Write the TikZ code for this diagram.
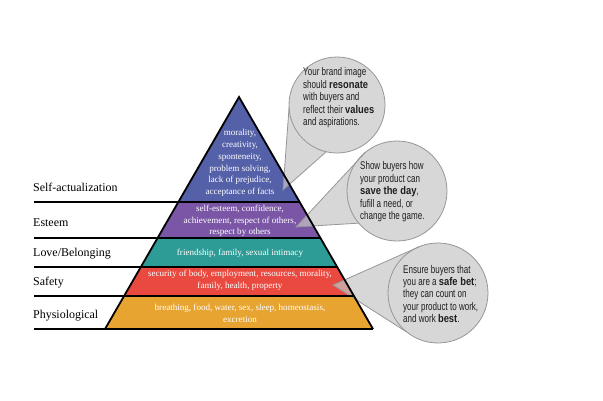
\documentclass[tikz,border=0pt]{standalone}
\usepackage{fontspec}
\setmainfont{Liberation Serif}
\newfontfamily\cfont[FakeStretch=0.72]{Liberation Sans}
\newfontfamily\cbfont[FakeStretch=0.84]{Liberation Sans}
\newcommand{\cb}[1]{{\cbfont\bfseries #1}}
\usetikzlibrary{calc}
\definecolor{pblue}{HTML}{5460A8}
\definecolor{ppurple}{HTML}{7B56A6}
\definecolor{pteal}{HTML}{2E9C96}
\definecolor{pred}{HTML}{E9493F}
\definecolor{porange}{HTML}{E7A431}
\definecolor{callfill}{RGB}{198,198,198}
\definecolor{callline}{RGB}{150,150,150}
\definecolor{ctext}{RGB}{30,30,30}
\tikzset{
  blackline/.style={line width=1.8bp, black},
  outline/.style={line width=1.8bp, black, line join=miter},
  calloutfill/.style={fill=callfill, fill opacity=0.7},
  calloutedge/.style={draw=callline, line width=0.8bp},
  lvl/.style={anchor=west, inner sep=0pt, font=\fontsize{12}{14}\selectfont},
  ptext/.style={align=center, text=white, inner sep=0pt, font=\fontsize{9.1}{11.8}\selectfont},
  ctextbox/.style={align=left, anchor=west, inner sep=0pt, text=ctext, font=\cfont\fontsize{11.2}{12.5}\selectfont},
}
\begin{document}
\begin{tikzpicture}[x=1bp,y=-1bp]
\useasboundingbox (0,0) rectangle (603,400);
% pyramid geometry
\coordinate (A) at (239,97);
\coordinate (BL) at (105,329);
\coordinate (BR) at (373,329);
\coordinate (L1) at ($(A)!0.4526!(BL)$);
\coordinate (R1) at ($(A)!0.4526!(BR)$);
\coordinate (L2) at ($(A)!0.6078!(BL)$);
\coordinate (R2) at ($(A)!0.6078!(BR)$);
\coordinate (L3) at ($(A)!0.7328!(BL)$);
\coordinate (R3) at ($(A)!0.7328!(BR)$);
\coordinate (L4) at ($(A)!0.8578!(BL)$);
\coordinate (R4) at ($(A)!0.8578!(BR)$);
% left ends of level lines
\coordinate (E1) at (34,202);
\coordinate (E2) at (34,238);
\coordinate (E3) at (34,267);
\coordinate (E4) at (34,296);
\coordinate (E5) at (34,329);
% bands
\fill[pblue] (A) -- (L1) -- (R1) -- cycle;
\fill[ppurple] (L1) -- (L2) -- (R2) -- (R1) -- cycle;
\fill[pteal] (L2) -- (L3) -- (R3) -- (R2) -- cycle;
\fill[pred] (L3) -- (L4) -- (R4) -- (R3) -- cycle;
\fill[porange] (L4) -- (BL) -- (BR) -- (R4) -- cycle;
% callouts
\coordinate (C1) at (337,105);
\coordinate (T1) at (283,190);
\coordinate (C2) at (397,191);
\coordinate (T2) at (296,227);
\coordinate (C3) at (438,293);
\coordinate (T3) at (333,285);
\fill[calloutfill] (T1) -- ($(C1)+(177:48)$) arc[start angle=177,end angle=463,radius=48] -- cycle;
\fill[calloutfill] (T2) -- ($(C2)+(231:50)$) arc[start angle=231,end angle=500,radius=50] -- cycle;
\fill[calloutfill] (T3) -- ($(C3)+(249:50)$) arc[start angle=249,end angle=489,radius=50] -- cycle;
\draw[calloutedge] (C1) circle[radius=48];
\draw[calloutedge] ($(C1)+(177:48)$) -- (T1) -- ($(C1)+(103:48)$);
\draw[calloutedge] (C2) circle[radius=50];
\draw[calloutedge] ($(C2)+(231:50)$) -- (T2) -- ($(C2)+(140:50)$);
\draw[calloutedge] (C3) circle[radius=50];
\draw[calloutedge] ($(C3)+(249:50)$) -- (T3) -- ($(C3)+(129:50)$);
% lines
\draw[blackline] (E1) -- (R1);
\draw[blackline] (E2) -- (R2);
\draw[blackline] (E3) -- (R3);
\draw[blackline] (E4) -- (R4);
\draw[blackline] (E5) -- (BR);
\draw[outline] (BL) -- (A) -- (BR);
% level labels
\node[lvl] (n1) at (33,187) {Self-actualization};
\node[lvl] (n2) at (33,223) {Esteem};
\node[lvl] (n3) at (33,254) {Love/Belonging};
\node[lvl] (n4) at (33,283) {Safety};
\node[lvl] (n5) at (33,316) {Physiological};
% pyramid texts
\node[ptext] (p1) at (240,163) {morality,\\creativity,\\sponteneity,\\problem solving,\\lack of prejudice,\\acceptance of facts};
\node[ptext] (p2) at (240,221) {self-esteem, confidence,\\achievement, respect of others,\\respect by others};
\node[ptext] (p3) at (240,253.5) {friendship, family, sexual intimacy};
\node[ptext] (p4) at (240,280.5) {security of body, employment, resources, morality,\\family, health, property};
\node[ptext] (p5) at (240,313.5) {breathing, food, water, sex, sleep, homeostasis,\\excretion};
% callout texts
\node[ctextbox] (c1) at (303,98) {Your brand image\\should \cb{resonate}\\with buyers and\\reflect their \cb{values}\\and aspirations.};
\node[ctextbox] (c2) at (360,192) {Show buyers how\\your product can\\\cb{save the day},\\fufill a need, or\\change the game.};
\node[ctextbox] (c3) at (403,294) {Ensure buyers that\\you are a \cb{safe bet};\\they can count on\\your product to work,\\and work \cb{best}.};
\end{tikzpicture}
\end{document}
